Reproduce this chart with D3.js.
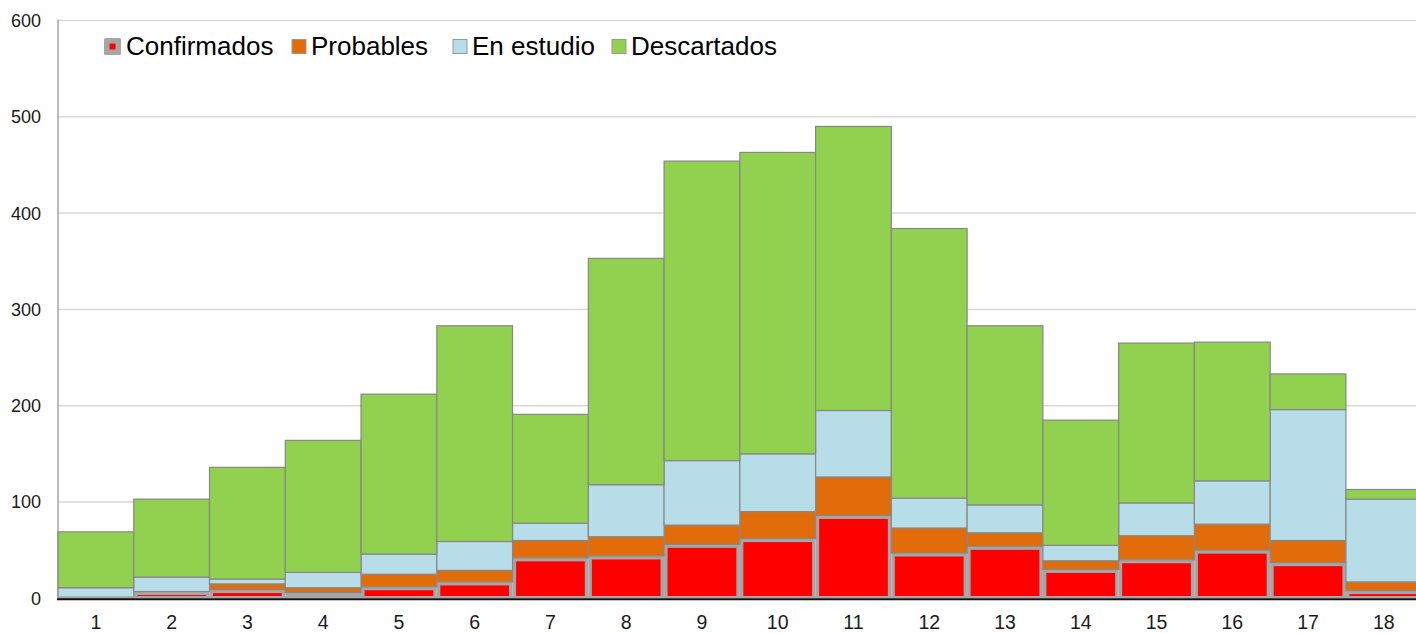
<!DOCTYPE html>
<html>
<head>
<meta charset="utf-8">
<script src="https://cdn.jsdelivr.net/npm/d3@7"></script>
<style>
  html, body { margin: 0; padding: 0; background: #fff; }
  svg { display: block; font-family: "Liberation Sans", Arial, sans-serif; }
</style>
</head>
<body>
<svg id="chart" width="1416" height="633"></svg>
<script>
// Weekly cases, stacked by status
const categories = ['1','2','3','4','5','6','7','8','9','10','11','12','13','14','15','16','17','18'];
const confirmados = [0, 7, 9, 6, 12, 17, 42, 44, 56, 62, 86, 47, 54, 30, 40, 50, 37, 8];
const probables   = [0, 0, 6, 5, 13, 12, 18, 20, 20, 28, 40, 26, 14, 9, 25, 27, 23, 9];
const enEstudio   = [11, 15, 5, 16, 21, 30, 18, 54, 67, 60, 69, 31, 29, 16, 34, 45, 136, 86];
const descartados = [58, 81, 116, 137, 166, 224, 113, 235, 311, 313, 295, 280, 186, 130, 166, 144, 37, 10];
const yTicks = [0, 100, 200, 300, 400, 500, 600];

const seriesNames = ['Confirmados', 'Probables', 'En estudio', 'Descartados'];
const seriesColors = ['#ff0000', '#e36c0a', '#b7dde8', '#92d050'];

const svg = d3.select('#chart');
const W = 1416;
const margin = { left: 58, top: 20.5, bottom: 598.3 };
const barStep = 75.76;

const x = d3.scaleBand()
    .domain(categories)
    .range([margin.left, margin.left + categories.length * barStep])
    .padding(0);

const y = d3.scaleLinear()
    .domain([0, 600])
    .range([margin.bottom, margin.top]);

// build stack table
const table = categories.map((c, i) => ({
    cat: c,
    'Confirmados': confirmados[i],
    'Probables': probables[i],
    'En estudio': enEstudio[i],
    'Descartados': descartados[i]
}));
const stacked = d3.stack().keys(seriesNames)(table);

// gridlines
svg.append('g').selectAll('line')
    .data(yTicks.filter(d => d > 0))
    .join('line')
    .attr('x1', margin.left).attr('x2', W)
    .attr('y1', d => y(d)).attr('y2', d => y(d))
    .style('stroke', '#d9d9d9')
    .style('stroke-width', 1.5);

// y tick labels
svg.append('g').selectAll('text')
    .data(yTicks)
    .join('text')
    .attr('x', 41)
    .attr('y', d => y(d))
    .attr('dy', '0.36em')
    .attr('text-anchor', 'end')
    .style('font-size', '18px')
    .style('fill', '#1a1a1a')
    .text(d => d);

// left axis line
svg.append('line')
    .attr('x1', margin.left).attr('x2', margin.left)
    .attr('y1', margin.top - 1).attr('y2', margin.bottom)
    .style('stroke', '#a6a6a6')
    .style('stroke-width', 1.5);

const bars = svg.append('g');

// Confirmados: gray frame with red inner box
const conf = stacked[0];
bars.append('g').selectAll('rect')
    .data(conf)
    .join('rect')
    .attr('x', (d, i) => x(categories[i]))
    .attr('width', x.bandwidth())
    .attr('y', d => y(d[1]))
    .attr('height', d => y(d[0]) - y(d[1]))
    .style('fill', '#a6a6a6');

bars.append('g').selectAll('rect')
    .data(conf.filter(d => (y(d[0]) - y(d[1])) > 6))
    .join('rect')
    .attr('x', d => x(d.data.cat) + 3.5)
    .attr('width', x.bandwidth() - 7)
    .attr('y', d => y(d[1]) + 3.5)
    .attr('height', d => y(d[0]) - y(d[1]) - 5.8)
    .style('fill', seriesColors[0]);

// remaining series
stacked.slice(1).forEach((s, k) => {
    bars.append('g').selectAll('rect')
        .data(s.filter(d => d[1] > d[0]))
        .join('rect')
        .attr('x', d => x(d.data.cat))
        .attr('width', x.bandwidth())
        .attr('y', d => y(d[1]))
        .attr('height', d => y(d[0]) - y(d[1]))
        .style('fill', seriesColors[k + 1])
        .style('stroke', '#878787')
        .style('stroke-width', 1.2);
});

// bottom axis
svg.append('line')
    .attr('x1', margin.left - 1).attr('x2', W)
    .attr('y1', 597.3).attr('y2', 597.3)
    .style('stroke', '#a6a6a6')
    .style('stroke-width', 2);
svg.append('line')
    .attr('x1', margin.left - 1).attr('x2', W)
    .attr('y1', 599.3).attr('y2', 599.3)
    .style('stroke', '#111')
    .style('stroke-width', 2);

// x labels
svg.append('g').selectAll('text')
    .data(categories)
    .join('text')
    .attr('x', d => x(d) + x.bandwidth() / 2)
    .attr('y', 629)
    .attr('text-anchor', 'middle')
    .style('font-size', '19.5px')
    .style('fill', '#1a1a1a')
    .text(d => d);

// legend
const legendX = [104, 292, 453, 612];
const legend = svg.append('g');
seriesNames.forEach((name, i) => {
    const g = legend.append('g');
    if (i === 0) {
        g.append('rect')
            .attr('x', legendX[i]).attr('y', 38)
            .attr('width', 17).attr('height', 17)
            .attr('rx', 1.5)
            .style('fill', '#a6a6a6');
        g.append('rect')
            .attr('x', legendX[i] + 5.5).attr('y', 43.5)
            .attr('width', 6).attr('height', 6)
            .style('fill', seriesColors[0]);
    } else {
        g.append('rect')
            .attr('x', legendX[i]).attr('y', 39.5)
            .attr('width', 14).attr('height', 14)
            .style('fill', seriesColors[i])
            .style('stroke', '#999')
            .style('stroke-width', 1);
    }
    g.append('text')
        .attr('x', legendX[i] + (i === 0 ? 22 : 19))
        .attr('y', 55)
        .style('font-size', '26px')
        .style('fill', '#000')
        .text(name);
});
</script>
</body>
</html>
